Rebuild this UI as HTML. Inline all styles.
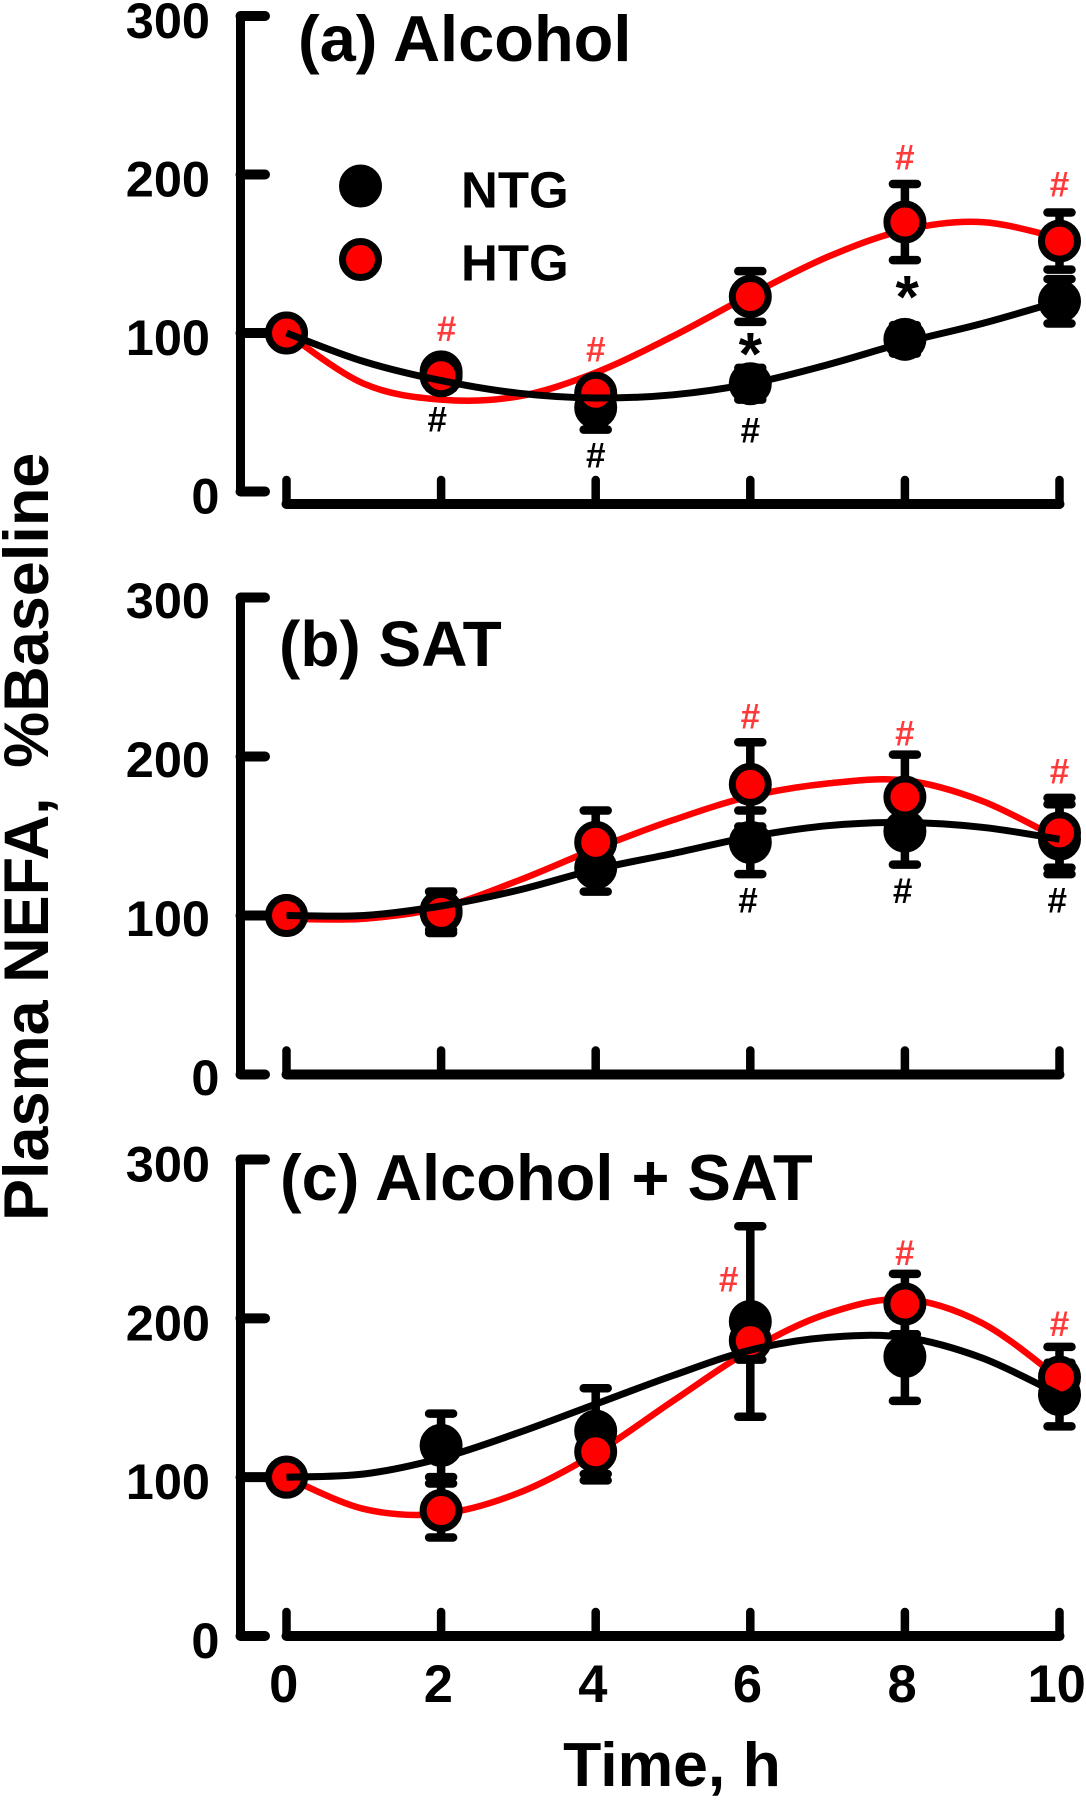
<!DOCTYPE html>
<html>
<head>
<meta charset="utf-8">
<title>Plasma NEFA chart</title>
<style>
html,body{margin:0;padding:0;background:#fff;}
svg{display:block;}
text{font-family:"Liberation Sans",sans-serif;font-weight:bold;fill:#000;}
</style>
</head>
<body>
<svg id="chart" xmlns="http://www.w3.org/2000/svg" width="1086" height="1800" viewBox="0 0 1086 1800">
  <text transform="translate(48,1221) rotate(-90)" font-size="63">Plasma NEFA, <tspan dx="12">%Baseline</tspan></text>
  <text x="672" y="1786" text-anchor="middle" font-size="62.5">Time, h</text>
  <text x="298" y="61" font-size="65">(a) Alcohol</text>
  <text x="279" y="666" font-size="64">(b) SAT</text>
  <text x="280" y="1200" font-size="65">(c) Alcohol + SAT</text>
  <g id="plots"></g>
  <g>
    <circle cx="360.5" cy="186" r="18" fill="#000" stroke="#000" stroke-width="7"/>
    <text x="461" y="207.5" font-size="51">NTG</text>
    <circle cx="360.5" cy="259.5" r="18" fill="#f00" stroke="#000" stroke-width="7"/>
    <text x="461" y="280.5" font-size="51">HTG</text>
  </g>
</svg>
<script>
var hours = [0, 2, 4, 6, 8, 10];
var curveHours = [0, 1, 2, 3, 4, 5, 6, 7, 8, 9, 10];
var yTicks = [0, 100, 200, 300];
var xTickLabels = ['0', '2', '4', '6', '8', '10'];

var aNtgMean = [100, 75.5, 53, 68, 96, 120];
var aNtgErr = [0, 5, 14, 10, 9, 14];
var aHtgMean = [100, 73, 62, 123, 170, 158];
var aHtgErr = [0, 8, 6, 16, 24, 18];
var aNtgCurve = [100, 82, 70, 62, 59, 61, 68, 80, 94, 106, 120];
var aHtgCurve = [100, 68, 58, 60, 75, 98, 124, 148, 165, 170, 160];
var aRedHashHours = [2.07, 4, 8, 10];
var aRedHashValues = [95, 82, 203, 186];
var aBlackHashHours = [1.95, 4, 6];
var aBlackHashValues = [38, 15, 31];
var aStarHours = [6, 8.03];
var aStarValues = [94.5, 130.5];

var bNtgMean = [100, 103, 130, 146, 153, 148];
var bNtgErr = [0, 12, 15, 20, 21, 22];
var bHtgMean = [100, 102, 146, 182.5, 174.5, 152];
var bHtgErr = [0, 13, 20, 26.5, 26.7, 22];
var bNtgCurve = [100, 100, 106, 116, 129, 139, 149.5, 156.5, 158.5, 155.5, 148];
var bHtgCurve = [98, 98, 105, 122, 142, 160, 175, 183, 185, 172, 148];
var bRedHashHours = [6, 8, 10];
var bRedHashValues = [217.6, 207, 183];
var bBlackHashHours = [5.97, 7.97, 9.97];
var bBlackHashValues = [102, 108, 102];
var bStarHours = [];
var bStarValues = [];

var cNtgMean = [100, 120, 129, 198, 176, 152];
var cNtgErr = [0, 20, 27, 60, 28, 20];
var cHtgMean = [100, 79, 116, 186, 209, 163];
var cHtgErr = [0, 17, 18, 12, 19, 19];
var cNtgCurve = [100, 102, 112, 128, 146, 164, 180, 188, 188, 175, 152];
var cHtgCurve = [100, 80, 77, 90, 115, 148, 180, 203, 212, 197, 162];
var cRedHashHours = [5.72, 8, 10];
var cRedHashValues = [217, 233.5, 189];
var cBlackHashHours = [];
var cBlackHashValues = [];
var cStarHours = [];
var cStarValues = [];

var X0 = 286.5, X_PER_HOUR = 77.3, AXIS_X = 240.5, AXIS_TICK_END = 265;
var NS = 'http://www.w3.org/2000/svg';
var plots = document.getElementById('plots');

function mk(parent, tag, attrs, text) {
  var el = document.createElementNS(NS, tag);
  for (var k in attrs) el.setAttribute(k, attrs[k]);
  if (text !== undefined) el.textContent = text;
  parent.appendChild(el);
  return el;
}
function xScale(h) { return X0 + h * X_PER_HOUR; }

function smoothPath(xs, ys, sx, sy) {
  var d = 'M' + sx(xs[0]).toFixed(1) + ' ' + sy(ys[0]).toFixed(1);
  for (var i = 0; i < xs.length - 1; i++) {
    var i0 = Math.max(i - 1, 0), i3 = Math.min(i + 2, xs.length - 1);
    var c1x = sx(xs[i]) + (sx(xs[i + 1]) - sx(xs[i0])) / 6;
    var c1y = sy(ys[i]) + (sy(ys[i + 1]) - sy(ys[i0])) / 6;
    var c2x = sx(xs[i + 1]) - (sx(xs[i3]) - sx(xs[i])) / 6;
    var c2y = sy(ys[i + 1]) - (sy(ys[i3]) - sy(ys[i])) / 6;
    d += 'C' + c1x.toFixed(1) + ' ' + c1y.toFixed(1) + ' ' + c2x.toFixed(1) + ' ' + c2y.toFixed(1) + ' ' + sx(xs[i + 1]).toFixed(1) + ' ' + sy(ys[i + 1]).toFixed(1);
  }
  return d;
}

function drawSeries(g, key, mean, err, fill, sy) {
  for (var i = 0; i < hours.length; i++) {
    if (err[i] > 0) {
      var x = xScale(hours[i]), hi = sy(mean[i] + err[i]), lo = sy(mean[i] - err[i]);
      var bar = mk(g, 'path', {d: 'M' + x + ' ' + hi + 'V' + lo + 'M' + (x - 12) + ' ' + hi + 'H' + (x + 12) + 'M' + (x - 12) + ' ' + lo + 'H' + (x + 12), fill: 'none', stroke: '#000', 'stroke-width': 8.5, 'stroke-linecap': 'round'});
      
      
    }
  }
  for (var j = 0; j < hours.length; j++) {
    var pt = mk(g, 'circle', {cx: xScale(hours[j]), cy: sy(mean[j]), r: 18, fill: fill, stroke: '#000', 'stroke-width': 7});
    
    
  }
}

function drawMarks(g, name, hs, vs, sy, glyph, color, size, dy) {
  for (var i = 0; i < hs.length; i++) {
    var t = mk(g, 'text', {x: xScale(hs[i]), y: sy(vs[i]) + dy, 'text-anchor': 'middle', 'font-size': size, style: 'fill:' + color}, glyph);
    
    
  }
}

function drawPanel(p) {
  var g = mk(plots, 'g', {});
  
  
  var sy = function (v) { return p.y0 - v * (p.y0 - p.y300) / 300; };

  var yAxis = mk(g, 'path', {d: 'M' + AXIS_X + ' ' + sy(300) + 'V' + sy(0), fill: 'none', stroke: '#000', 'stroke-width': 9, 'stroke-linecap': 'round'});
  
  
  yTicks.forEach(function (v) {
    var tick = mk(g, 'path', {d: 'M' + AXIS_X + ' ' + sy(v) + 'H' + AXIS_TICK_END, fill: 'none', stroke: '#000', 'stroke-width': 10, 'stroke-linecap': 'round'});
    
    
    var lab = mk(g, 'text', {x: v === 0 ? 219.5 : 210, y: sy(v) + p.labelDy, 'text-anchor': 'end', 'font-size': 50.5}, String(v));
    
    
  });

  var xAxis = mk(g, 'path', {d: 'M' + xScale(0) + ' ' + p.xAxisY + 'H' + xScale(10), fill: 'none', stroke: '#000', 'stroke-width': 10, 'stroke-linecap': 'round'});
  
  
  hours.forEach(function (h, i) {
    var tick = mk(g, 'path', {d: 'M' + xScale(h) + ' ' + p.xAxisY + 'V' + (p.xAxisY - 24), fill: 'none', stroke: '#000', 'stroke-width': 8.5, 'stroke-linecap': 'round'});
    
    
    if (p.showXLabels) {
      var lab = mk(g, 'text', {x: xScale(h) - 2.8, y: 1702, 'text-anchor': 'middle', 'font-size': 52.5}, xTickLabels[i]);
      
      
    }
  });

  var htgCurve = mk(g, 'path', {d: smoothPath(curveHours, p.htgCurve, xScale, sy), fill: 'none', stroke: '#f00', 'stroke-width': 6.5});
  
  

  drawSeries(g, 'ntg', p.ntgMean, p.ntgErr, '#000', sy);
  drawSeries(g, 'htg', p.htgMean, p.htgErr, '#f00', sy);

  var ntgCurve = mk(g, 'path', {d: smoothPath(curveHours, p.ntgCurve, xScale, sy), fill: 'none', stroke: '#000', 'stroke-width': 7});
  
  

  drawMarks(g, 'htg-significance-mark', p.redHours, p.redValues, sy, '#', '#ff3a3a', 35, 0);
  drawMarks(g, 'ntg-significance-mark', p.blackHours, p.blackValues, sy, '#', '#000', 35, 0);
  drawMarks(g, 'group-difference-star', p.starHours, p.starValues, sy, '*', '#000', 60, 33);
}

drawPanel({id: 'a', y300: 16, y0: 491.5, xAxisY: 504, labelDy: 22, showXLabels: false,
  ntgMean: aNtgMean, ntgErr: aNtgErr, htgMean: aHtgMean, htgErr: aHtgErr, ntgCurve: aNtgCurve, htgCurve: aHtgCurve,
  redHours: aRedHashHours, redValues: aRedHashValues, blackHours: aBlackHashHours, blackValues: aBlackHashValues, starHours: aStarHours, starValues: aStarValues});
drawPanel({id: 'b', y300: 597.5, y0: 1074.5, xAxisY: 1074.5, labelDy: 20.5, showXLabels: false,
  ntgMean: bNtgMean, ntgErr: bNtgErr, htgMean: bHtgMean, htgErr: bHtgErr, ntgCurve: bNtgCurve, htgCurve: bHtgCurve,
  redHours: bRedHashHours, redValues: bRedHashValues, blackHours: bBlackHashHours, blackValues: bBlackHashValues, starHours: bStarHours, starValues: bStarValues});
drawPanel({id: 'c', y300: 1159.5, y0: 1636, xAxisY: 1636, labelDy: 22, showXLabels: true,
  ntgMean: cNtgMean, ntgErr: cNtgErr, htgMean: cHtgMean, htgErr: cHtgErr, ntgCurve: cNtgCurve, htgCurve: cHtgCurve,
  redHours: cRedHashHours, redValues: cRedHashValues, blackHours: cBlackHashHours, blackValues: cBlackHashValues, starHours: cStarHours, starValues: cStarValues});
</script>
</body>
</html>
